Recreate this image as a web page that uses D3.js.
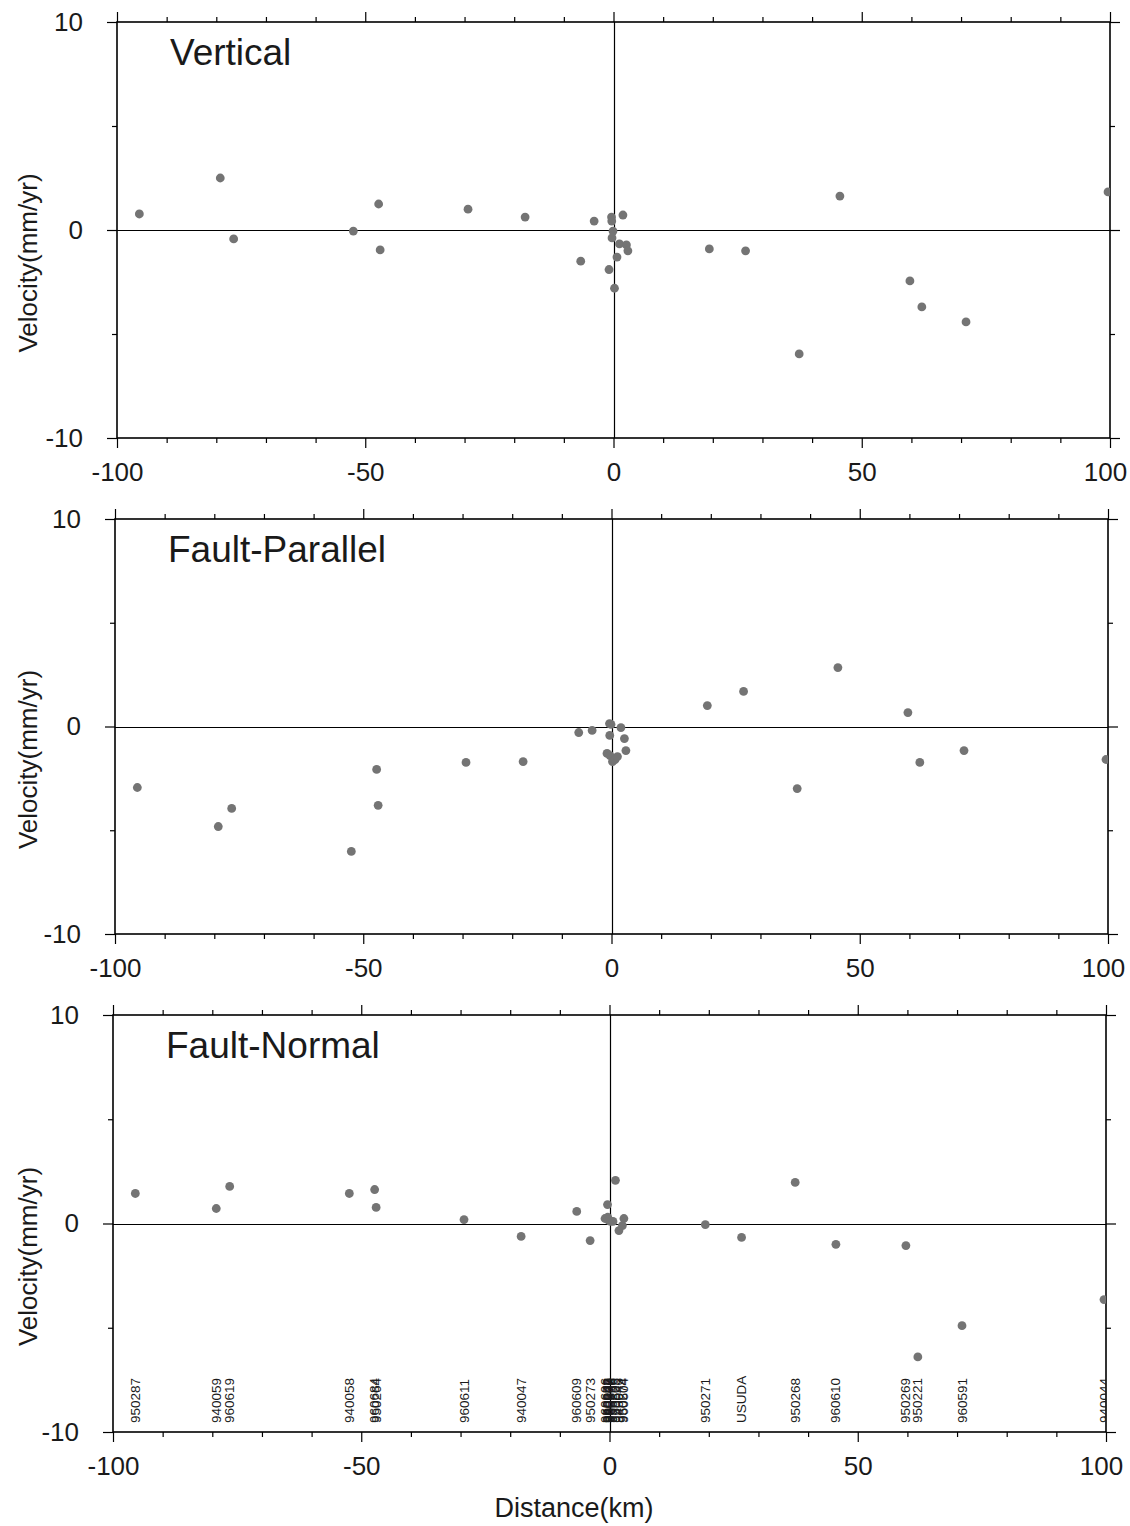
<!DOCTYPE html>
<html>
<head>
<meta charset="utf-8">
<script src="https://cdn.jsdelivr.net/npm/d3@7"></script>
<style>
  html, body { margin: 0; padding: 0; background: #fff; }
  svg { display: block; }
  text { font-family: "Liberation Sans", Arial, Helvetica, sans-serif; fill: #1a1a1a; }
</style>
</head>
<body>
<svg id="chart" width="1130" height="1526"></svg>
<script>
// ---- data ----
const stations = ["950287","940059","960619","940058","960684","950264","960611","940047","960609","950273",
  "960606","950272","940043","960607","950270","960608","950266","960605","940046","950274","960604",
  "950271","USUDA","950268","960610","950269","950221","960591","940044"];
const distance = [-95.5,-79.2,-76.5,-52.4,-47.3,-47.0,-29.3,-17.8,-6.6,-3.9,
  -0.9,-0.4,-0.35,-0.3,-0.1,0.2,0.7,1.2,1.9,2.6,2.9,
  19.3,26.6,37.4,45.6,59.7,62.1,71.0,99.6];
const vertical = [0.77,2.5,-0.43,-0.05,1.25,-0.96,1.0,0.62,-1.5,0.43,
  -1.9,0.62,0.43,-0.38,-0.05,-2.8,-1.3,-0.67,0.72,-0.72,-1.0,
  -0.91,-1.0,-5.96,1.63,-2.45,-3.7,-4.42,1.83];
const faultParallel = [-2.94,-4.82,-3.95,-6.02,-2.07,-3.8,-1.73,-1.69,-0.29,-0.19,
  -1.3,0.14,-0.43,-1.4,0.1,-1.69,-1.6,-1.45,-0.05,-0.58,-1.16,
  1.01,1.69,-2.99,2.84,0.67,-1.73,-1.16,-1.59];
const faultNormal = [1.44,0.72,1.78,1.44,1.63,0.77,0.19,-0.62,0.58,-0.82,
  0.24,0.91,0.3,0.2,0.14,0.1,0.1,2.07,-0.34,-0.1,0.24,
  -0.05,-0.67,1.97,-1.0,-1.06,-6.4,-4.9,-3.65];
const panelTitles = ["Vertical","Fault-Parallel","Fault-Normal"];
const xMajorTicks = [-100,-50,0,50,100];
const xMinorTicks = d3.range(-90,100,10).filter(v => v % 50 !== 0);
const yMajorTicks = [-10,0,10];
const yMinorTicks = [-5,5];
const xDomain = [-100,100];
const yDomain = [-10,10];

// ---- layout ----
const panels = [
  {title: panelTitles[0], values: vertical,      left: 117, right: 1110, top: 22,   bottom: 438, labels: false},
  {title: panelTitles[1], values: faultParallel, left: 115, right: 1108, top: 519,  bottom: 934, labels: false},
  {title: panelTitles[2], values: faultNormal,   left: 113, right: 1106, top: 1015, bottom: 1432, labels: true}
];

const svg = d3.select("#chart");
const defs = svg.append("defs");

panels.forEach((p, i) => {
  const x = d3.scaleLinear().domain(xDomain).range([p.left, p.right]);
  const y = d3.scaleLinear().domain(yDomain).range([p.bottom, p.top]);
  const g = svg.append("g");

  defs.append("clipPath").attr("id", "clip" + i)
    .append("rect").attr("x", p.left).attr("y", p.top)
    .attr("width", p.right - p.left).attr("height", p.bottom - p.top);

  // zero lines
  g.append("line").attr("x1", p.left).attr("x2", p.right)
    .attr("y1", Math.round(y(0)) + 0.5).attr("y2", Math.round(y(0)) + 0.5)
    .attr("stroke", "#000").attr("stroke-width", 1.2);
  g.append("line").attr("x1", Math.round(x(0)) + 0.5).attr("x2", Math.round(x(0)) + 0.5)
    .attr("y1", p.top).attr("y2", p.bottom).attr("stroke", "#000").attr("stroke-width", 1.2);

  // axes
  const styleAxis = (sel) => {
    sel.select(".domain").remove();
    sel.selectAll(".tick line").attr("stroke", "#000").attr("stroke-width", 1.2);
    sel.selectAll("text").attr("font-size", 26).attr("font-family", '"Liberation Sans", Arial, sans-serif').attr("fill", "#1a1a1a");
  };
  const fmt = d => d3.format("d")(d).replace("−", "-");

  const bx = g.append("g").attr("transform", `translate(0,${p.bottom})`)
    .call(d3.axisBottom(x).tickValues(xMajorTicks).tickSize(10).tickPadding(15).tickFormat(fmt)).call(styleAxis);
  // keep the right-most label inside the page
  bx.selectAll(".tick text").filter(d => d === 100).attr("dx", -5);
  g.append("g").attr("transform", `translate(0,${p.bottom})`)
    .call(d3.axisBottom(x).tickValues(xMinorTicks).tickSize(5).tickFormat("")).call(styleAxis);
  g.append("g").attr("transform", `translate(0,${p.top})`)
    .call(d3.axisTop(x).tickValues(xMajorTicks).tickSize(10).tickFormat("")).call(styleAxis);
  g.append("g").attr("transform", `translate(0,${p.top})`)
    .call(d3.axisTop(x).tickValues(xMinorTicks).tickSize(5).tickFormat("")).call(styleAxis);
  g.append("g").attr("transform", `translate(${p.left},0)`)
    .call(d3.axisLeft(y).tickValues(yMajorTicks).tickSize(10).tickPadding(24).tickFormat(fmt)).call(styleAxis);
  g.append("g").attr("transform", `translate(${p.left},0)`)
    .call(d3.axisLeft(y).tickValues(yMinorTicks).tickSize(5).tickFormat("")).call(styleAxis);
  g.append("g").attr("transform", `translate(${p.right},0)`)
    .call(d3.axisRight(y).tickValues(yMajorTicks).tickSize(10).tickFormat("")).call(styleAxis);
  g.append("g").attr("transform", `translate(${p.right},0)`)
    .call(d3.axisRight(y).tickValues(yMinorTicks).tickSize(5).tickFormat("")).call(styleAxis);

  // frame
  g.append("rect").attr("x", p.left).attr("y", p.top)
    .attr("width", p.right - p.left).attr("height", p.bottom - p.top)
    .attr("fill", "none").attr("stroke", "#000").attr("stroke-width", 1.6);

  // title
  g.append("text").attr("x", p.left + 53).attr("y", p.top + 43)
    .attr("font-size", 37).text(p.title);

  // y label
  const ly = (p.top + p.bottom) / 2 + 33;
  g.append("text").attr("transform", `translate(37,${ly}) rotate(-90)`)
    .attr("text-anchor", "middle").attr("font-size", 26).text("Velocity(mm/yr)");

  // station labels
  if (p.labels) {
    g.append("g").attr("clip-path", `url(#clip${i})`)
      .selectAll("text").data(stations).join("text")
      .attr("transform", (d, k) => `translate(${x(distance[k]) + 4.5},${p.bottom - 9}) rotate(-90)`)
      .attr("font-size", 13.5).attr("fill", "#222")
      .text(d => d);
  }

  // points
  g.append("g").attr("clip-path", `url(#clip${i})`)
    .selectAll("circle").data(p.values).join("circle")
    .attr("cx", (d, k) => x(distance[k]))
    .attr("cy", d => y(d))
    .attr("r", 4.4)
    .attr("fill", "#747474");
});

// x axis title
svg.append("text").attr("x", 574).attr("y", 1517).attr("text-anchor", "middle")
  .attr("font-size", 27).text("Distance(km)");
</script>
</body>
</html>
